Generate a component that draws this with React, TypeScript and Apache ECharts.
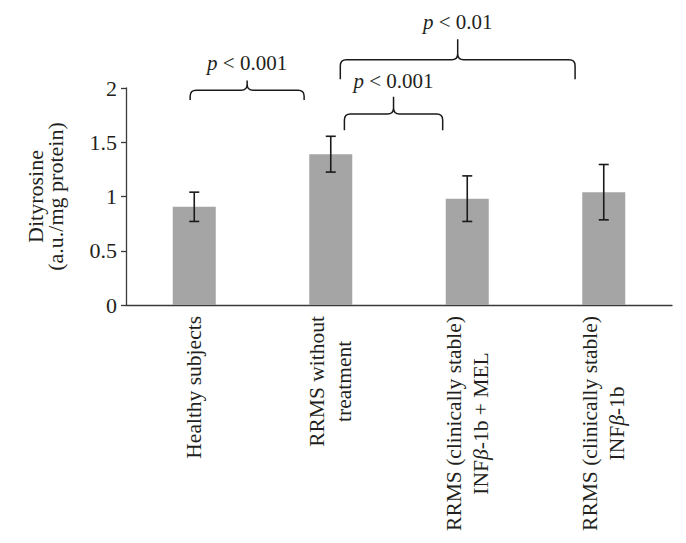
import React, { useEffect, useRef } from "react";
import * as echarts from "echarts";

const categories = [
  "Healthy subjects",
  "RRMS without\ntreatment",
  "RRMS (clinically stable)\nINFβ-1b + MEL",
  "RRMS (clinically stable)\nINFβ-1b",
];
const means = [0.905, 1.39, 0.98, 1.04];
const errors = [0.135, 0.165, 0.21, 0.255];

const yTicks = [0, 0.5, 1, 1.5, 2];

// significance brackets (x in category units, y in value units)
const braceFrom = [-0.03, 1.1, 1.07];
const braceTo = [0.805, 1.82, 2.79];
const braceEndY = [1.89, 1.61, 2.08];
const braceLineY = [1.98, 1.76, 2.26];
const braceTipY = [2.07, 1.92, 2.45];
const braceLabelY = [2.23, 2.06, 2.61];
const braceLabels = ["0.001", "0.001", "0.01"];

const SERIF = "'Liberation Serif', 'DejaVu Serif', serif";
const TEXT = "#231f20";
const AXIS = "#3a3a3a";

function richLabel(s: string): string {
  return s
    .split("\n")
    .map((line) => "{c|" + line.replace(/β/g, "}{ci|β}{c|") + "}")
    .join("\n");
}

export default function App() {
  const ref = useRef<HTMLDivElement>(null);
  useEffect(() => {
    if (!ref.current) return;
    const chart = echarts.init(ref.current, undefined, { renderer: "svg" });
    const errData = means.map((m, i) => [i, m, errors[i]]);
    const braceData = braceFrom.map((f, i) => [
      f,
      braceTo[i],
      braceEndY[i],
      braceLineY[i],
      braceTipY[i],
      braceLabelY[i],
      i,
    ]);
    chart.setOption({
      animation: false,
      grid: {
        left: 126,
        right: 14,
        top: 88,
        bottom: 238,
        containLabel: false,
        outerBoundsMode: "none",
      },
      xAxis: {
        type: "category",
        data: categories,
        axisLine: { show: true, lineStyle: { color: AXIS, width: 1.3 } },
        axisTick: { show: false },
        axisLabel: {
          interval: 0,
          rotate: 90,
          margin: 11,
          color: TEXT,
          fontFamily: SERIF,
          fontSize: 21.5,
          lineHeight: 27,
          formatter: (v: string) => richLabel(v),
          rich: {
            c: { align: "center", fontFamily: SERIF, fontSize: 21.5, lineHeight: 27, color: TEXT },
            ci: {
              align: "center",
              fontFamily: SERIF,
              fontSize: 21.5,
              lineHeight: 27,
              fontStyle: "italic",
              color: TEXT,
            },
          },
        },
      },
      yAxis: {
        type: "value",
        min: yTicks[0],
        max: yTicks[yTicks.length - 1],
        interval: 0.5,
        name: "Dityrosine\n(a.u./mg protein)",
        nameLocation: "middle",
        nameGap: 61,
        nameRotate: 90,
        nameTextStyle: {
          fontFamily: SERIF,
          fontSize: 22,
          lineHeight: 20,
          color: TEXT,
        },
        axisLine: { show: true, lineStyle: { color: AXIS, width: 1.3 } },
        axisTick: { show: true, length: 5, lineStyle: { color: AXIS, width: 1.3 } },
        splitLine: { show: false },
        axisLabel: {
          margin: 9,
          color: TEXT,
          fontFamily: SERIF,
          fontSize: 22,
        },
      },
      series: [
        {
          type: "bar",
          data: means,
          barWidth: 43,
          itemStyle: { color: "#a5a5a5" },
          z: 2,
        },
        {
          type: "custom",
          data: errData,
          z: 3,
          renderItem: (params: any, api: any) => {
            const i = api.value(0);
            const m = api.value(1);
            const e = api.value(2);
            const top = api.coord([i, m + e]);
            const bot = api.coord([i, m - e]);
            const x = top[0];
            const hw = 5;
            const st = { stroke: "#1a1a1a", lineWidth: 1.6 };
            return {
              type: "group",
              children: [
                { type: "line", shape: { x1: x, y1: top[1], x2: x, y2: bot[1] }, style: st },
                { type: "line", shape: { x1: x - hw, y1: top[1], x2: x + hw, y2: top[1] }, style: st },
                { type: "line", shape: { x1: x - hw, y1: bot[1], x2: x + hw, y2: bot[1] }, style: st },
              ],
            };
          },
        },
        {
          type: "custom",
          data: braceData,
          z: 4,
          clip: false,
          renderItem: (params: any, api: any) => {
            const origin = api.coord([0, 0]);
            const band = api.size([1, 0])[0];
            const x1 = origin[0] + api.value(0) * band;
            const x2 = origin[0] + api.value(1) * band;
            const yEnd = api.coord([0, api.value(2)])[1];
            const yLine = api.coord([0, api.value(3)])[1];
            const yTip = api.coord([0, api.value(4)])[1];
            const yLab = api.coord([0, api.value(5)])[1];
            const idx = api.value(6);
            const xm = (x1 + x2) / 2;
            const r = 6;
            const d =
              `M${x1},${yEnd} L${x1},${yLine + r} Q${x1},${yLine} ${x1 + r},${yLine} ` +
              `L${xm - r},${yLine} Q${xm},${yLine} ${xm},${yLine - r} L${xm},${yTip} ` +
              `M${xm},${yLine - r} Q${xm},${yLine} ${xm + r},${yLine} ` +
              `L${x2 - r},${yLine} Q${x2},${yLine} ${x2},${yLine + r} L${x2},${yEnd}`;
            return {
              type: "group",
              children: [
                {
                  type: "path",
                  shape: { pathData: d },
                  style: { fill: null, stroke: "#1a1a1a", lineWidth: 1.5 },
                },
                {
                  type: "text",
                  x: xm,
                  y: yLab,
                  style: {
                    text: "{i|p} < " + braceLabels[idx],
                    align: "center",
                    verticalAlign: "middle",
                    fontFamily: SERIF,
                    fontSize: 21,
                    fill: TEXT,
                    rich: {
                      i: { fontStyle: "italic", fontFamily: SERIF, fontSize: 21, fill: TEXT },
                    },
                  },
                },
              ],
            };
          },
        },
      ],
    });
    return () => chart.dispose();
  }, []);
  return (
    <div
      ref={ref}
      style={{ position: "fixed", left: 0, top: 0, width: 686, height: 543, background: "#fff" }}
    />
  );
}
